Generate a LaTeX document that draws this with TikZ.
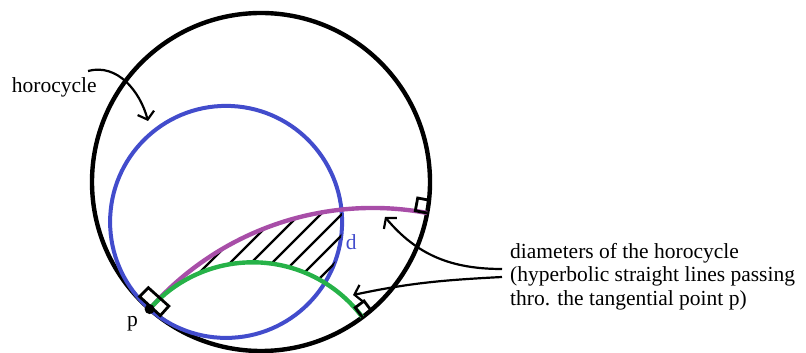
\documentclass[tikz,border=0pt]{standalone}
\usepackage{fontspec}
\setmainfont{Liberation Serif}
\usepackage{xcolor}
\usetikzlibrary{arrows.meta,positioning,calc}
\definecolor{horoblue}{RGB}{66,76,204}
\definecolor{geopurple}{RGB}{168,78,168}
\definecolor{geogreen}{RGB}{38,178,72}

\begin{document}
\begin{tikzpicture}[x=1pt,y=1pt,>={Straight Barb[length=7pt,width=17pt]},
  lbl/.style={inner sep=0pt,font=\fontsize{21.5}{23.4}\selectfont},
  rmark/.style={line width=2.8pt,line join=miter},
  callout/.style={->,line width=2.2pt}]
  \useasboundingbox (0,0) rectangle (806,353);
  % disk and horocycle
  \coordinate (c) at (261,171);
  \coordinate (h) at (226.1,131.1);
  \coordinate (p) at (149.6,43.9);
  \coordinate (a) at (427.1,140);
  \coordinate (b) at (362.4,35.8);
  \draw[line width=4.4pt] (c) circle[radius=169];
  \draw[horoblue,line width=4pt] (h) circle[radius=116];
  % hatched region between the two diameters
  \begin{scope}
    \clip (p) arc[start angle=138.76,end angle=79.46,radius=296.8]
      arc[start angle=-10.57,end angle=-53.13,radius=169]
      arc[start angle=36.87,end angle=138.82,radius=137];
    \clip (h) circle[radius=116];
    \foreach \k in {119,140,...,245}
      \draw[line width=2.3pt] (\k+50,50) -- (\k+200,200);
  \end{scope}
  % diameters through p
  \draw[geopurple,line width=4.4pt] (p) arc[start angle=138.76,end angle=79.46,radius=296.8];
  \draw[geogreen,line width=4.4pt] (p) arc[start angle=138.82,end angle=36.87,radius=137];
  % right angles
  \draw[rmark] (a) -- ++(169.43:12) -- ++(79.43:13) -- ++(-10.57:12);
  \draw[rmark] (b) -- ++(126.87:12) -- ++(36.87:11) -- ++(-53.13:12);
  \draw[rmark,shift={(p)}] (-10,12.5) -- (-1.3,21.4) -- (19.2,3) -- (10.7,-6.5) -- cycle;
  \fill (p) circle[radius=5];
  % labels
  \node[lbl,anchor=base] (plbl) at (132.5,26) {p};
  \node[lbl,anchor=base,text=horoblue] (dlbl) at (351.3,103) {d};
  \node[lbl,anchor=base west] (horo) at (11.7,260.3) {horocycle};
  \node[lbl,anchor=north west,align=left] (diam) at (510,110)
    {diameters of the horocycle\\(hyperbolic straight lines passing\\thro. the tangential point p)};
  % callouts
  \coordinate (hs) at (88,282);
  \coordinate (ht) at (148,232);
  \draw[callout] (hs) to[out=15,in=105] (ht);
  \coordinate (us) at (502,84);
  \coordinate (ut) at (385,136);
  \draw[callout] (us) to[out=180,in=-50] (ut);
  \coordinate (ls) at (502,76);
  \coordinate (lt) at (353,58);
  \draw[callout] (ls) to[out=183,in=12] (lt);
\end{tikzpicture}
\end{document}
